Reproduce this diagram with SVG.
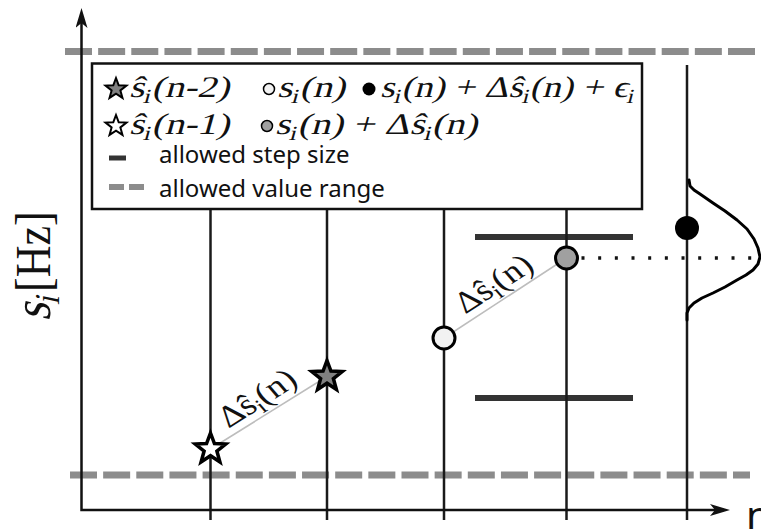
<svg xmlns="http://www.w3.org/2000/svg" width="761" height="529" viewBox="0 0 761 529">
<defs>
<style>
.ax{stroke:#111;stroke-width:2.5;fill:none}
.vl{stroke:#1a1a1a;stroke-width:2.5}
.rng{stroke:#8c8c8c;stroke-width:7;stroke-dasharray:27 6.15;fill:none}
.step{stroke:#333;stroke-width:6}
.m{font-family:"Liberation Serif","Times New Roman",serif;font-size:30px;font-style:normal;fill:#111}
.sub{font-size:20px}
.sans{font-family:"Noto Sans","Open Sans",sans-serif;font-size:24px;fill:#111}
.dl{stroke:#bdbdbd;stroke-width:1.6}
.big{stroke:#000;stroke-width:3.5;stroke-linejoin:miter}
.sm{stroke:#000;stroke-width:2;stroke-linejoin:miter}
</style>
<marker id="arr" viewBox="0 0 20 12" refX="14" refY="6" markerWidth="20" markerHeight="12" markerUnits="userSpaceOnUse" orient="auto-start-reverse"><path d="M0,0 L20,6 L0,12 L5,6 Z" fill="#111"/></marker>
<path id="starB" d="M0,-16 L3.95,-5.44 L15.22,-4.94 L6.39,2.08 L9.40,12.94 L0,6.72 L-9.40,12.94 L-6.39,2.08 L-15.22,-4.94 L-3.95,-5.44 Z"/>
<path id="starS" d="M0,-11 L2.72,-3.74 L10.46,-3.40 L4.39,1.43 L6.47,8.90 L0,4.62 L-6.47,8.90 L-4.39,1.43 L-10.46,-3.40 L-2.72,-3.74 Z"/>
</defs>
<rect width="761" height="529" fill="#fff"/>

<g id="value-range">
<path class="rng" d="M65,51.5 H761"/>
<path class="rng" d="M70,475 H750"/>
</g>
<g id="step-size">
<path class="step" d="M475,237 H633"/>
<path class="step" d="M475,398 H633"/>
</g>
<g id="time-lines">
<path class="vl" d="M210.5,209 V520"/>
<path class="vl" d="M327,209 V520"/>
<path class="vl" d="M444,209 V520"/>
<path class="vl" d="M566.5,209 V520"/>
<path class="vl" d="M687,65 V520"/>
</g>
<g id="axes">
<path class="ax" d="M81.5,14 V510 H724" marker-start="url(#arr)" marker-end="url(#arr)"/>
<g transform="translate(50 321) rotate(-90) scale(1 1.16)">
<text class="m" style="font-size:46px" transform="skewX(-14)">s<tspan dy="8" style="font-size:30px">i</tspan></text>
<text class="m" style="font-size:44px" x="29">[Hz]</text>
</g>
<text class="sans" style="font-size:40px" x="746" y="530">n</text>
</g>

<g id="connectors">
<path class="dl" d="M210.5,449 L327,376.5"/>
<path class="dl" d="M444,338 L566.5,258"/>
<path d="M581.5,258 H755" stroke="#111" stroke-width="3.5" stroke-dasharray="3 13.67" fill="none"/>
<text class="m" style="font-size:28px" text-anchor="middle" transform="translate(264 406) scale(1.45 1) rotate(-42.9) skewX(-12)">Δŝ<tspan dy="5" style="font-size:19px">i</tspan><tspan dy="-5">(</tspan>n)</text>
<text class="m" style="font-size:28px" text-anchor="middle" transform="translate(500.5 291.5) scale(1.45 1) rotate(-43.3) skewX(-12)">Δŝ<tspan dy="5" style="font-size:19px">i</tspan><tspan dy="-5">(</tspan>n)</text>
</g>

<g id="distribution">
<polyline fill="none" stroke="#000" stroke-width="3" stroke-linejoin="round" stroke-linecap="round" points="689,180 690,186 694,190 700,194 713,203 725,211 737,220 747,229 754,239 758,248 760,257 758,264 753,270 746,275 737,280 725,287 713,293 702,298 694,303 689,308 687,313 687,320"/>
</g>

<g id="star-n-1"><use href="#starB" x="210.5" y="449" fill="#fff" class="big"/></g>
<g id="star-n-2"><use href="#starB" x="327" y="376.5" fill="#808080" class="big"/></g>
<g id="circle-sn"><circle cx="444" cy="338" r="11" fill="#f2f2f2" stroke="#000" stroke-width="3"/></g>
<g id="circle-step"><circle cx="566.5" cy="258" r="11" fill="#a0a0a0" stroke="#000" stroke-width="3"/></g>
<g id="circle-noise"><circle cx="687" cy="228" r="12" fill="#000"/></g>

<g id="legend">
<rect x="92" y="63.5" width="550" height="145.5" fill="#fff" stroke="#111" stroke-width="2.5"/>
<use href="#starS" x="116" y="89" fill="#808080" class="sm"/>
<text class="m" transform="translate(129 97) scale(1.3 1) skewX(-12)">ŝ<tspan class="sub" dy="6">i</tspan><tspan dy="-6">(n-2)</tspan></text>
<circle cx="269" cy="89" r="5.5" fill="#f2f2f2" stroke="#000" stroke-width="1.5"/>
<text class="m" transform="translate(277 97) scale(1.3 1) skewX(-12)">s<tspan class="sub" dy="6">i</tspan><tspan dy="-6">(n)</tspan></text>
<circle cx="369" cy="89" r="6.5" fill="#000"/>
<text class="m" transform="translate(380 97) scale(1.24 1) skewX(-12)">s<tspan class="sub" dy="6">i</tspan><tspan dy="-6">(n) + Δŝ</tspan><tspan class="sub" dy="6">i</tspan><tspan dy="-6">(n) + ϵ</tspan><tspan class="sub" dy="6">i</tspan></text>
<use href="#starS" x="116" y="126" fill="#fff" class="sm"/>
<text class="m" transform="translate(129 134) scale(1.3 1) skewX(-12)">ŝ<tspan class="sub" dy="6">i</tspan><tspan dy="-6">(n-1)</tspan></text>
<circle cx="267" cy="126" r="5.5" fill="#a0a0a0" stroke="#000" stroke-width="1.5"/>
<text class="m" transform="translate(275 134) scale(1.3 1) skewX(-12)">s<tspan class="sub" dy="6">i</tspan><tspan dy="-6">(n) + Δŝ</tspan><tspan class="sub" dy="6">i</tspan><tspan dy="-6">(n)</tspan></text>
<path d="M109,158 H126" stroke="#333" stroke-width="5"/>
<text class="sans" x="159" y="163">allowed step size</text>
<path d="M109,187 H144" stroke="#8c8c8c" stroke-width="6" stroke-dasharray="15 5"/>
<text class="sans" x="159" y="197">allowed value range</text>
</g>
</svg>
